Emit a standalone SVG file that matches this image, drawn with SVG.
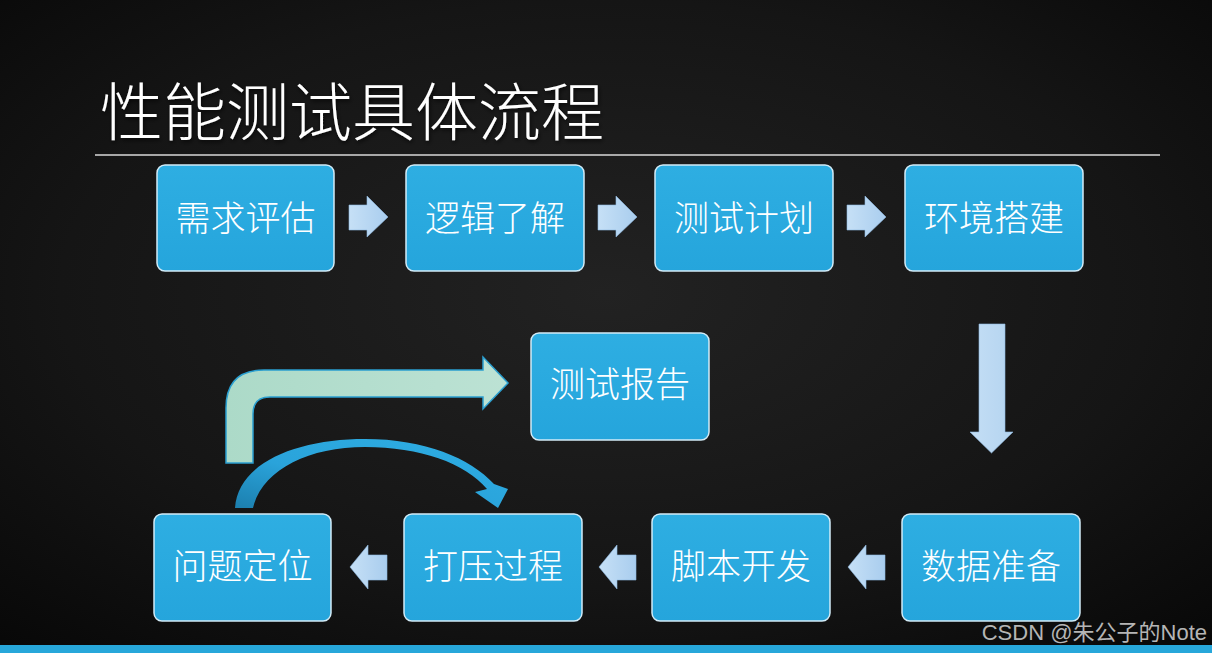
<svg xmlns="http://www.w3.org/2000/svg" width="1212" height="653" viewBox="0 0 1212 653">
<defs>
<radialGradient id="bg" cx="0.5" cy="0.45" r="0.75">
<stop offset="0" stop-color="#222222"/>
<stop offset="0.6" stop-color="#151515"/>
<stop offset="1" stop-color="#070707"/>
</radialGradient>
<linearGradient id="boxg" x1="0" y1="0" x2="0" y2="1">
<stop offset="0" stop-color="#2eaee2"/>
<stop offset="1" stop-color="#25a5dc"/>
</linearGradient>
<linearGradient id="arrg" x1="0" y1="0" x2="1" y2="0">
<stop offset="0" stop-color="#c6e0f6"/>
<stop offset="1" stop-color="#a9cdee"/>
</linearGradient>
<linearGradient id="arrv" x1="0" y1="0" x2="1" y2="0">
<stop offset="0" stop-color="#c4def5"/>
<stop offset="1" stop-color="#b4d4f0"/>
</linearGradient>
<linearGradient id="mint" x1="0" y1="0" x2="1" y2="0">
<stop offset="0" stop-color="#acdac8"/>
<stop offset="1" stop-color="#bce2d4"/>
</linearGradient>
<linearGradient id="curv" x1="0" y1="1" x2="1" y2="0">
<stop offset="0" stop-color="#1c7fae"/>
<stop offset="0.4" stop-color="#2aa3da"/>
<stop offset="1" stop-color="#2eaee4"/>
</linearGradient>
<filter id="sh" x="-10%" y="-10%" width="120%" height="130%">
<feDropShadow dx="1" dy="2" stdDeviation="2" flood-color="#000" flood-opacity="0.7"/>
</filter>
</defs>
<style>
.box{fill:url(#boxg);stroke:#d2ebf7;stroke-width:1.5;}
.lbl{font-family:"Noto Sans CJK SC","Noto Sans",sans-serif;font-weight:300;font-size:35px;fill:#ffffff;text-anchor:middle;}
.arr{fill:url(#arrg);stroke:#8fb9e0;stroke-width:0.6;}
</style>
<rect x="0" y="0" width="1212" height="653" fill="url(#bg)"/>
<rect x="0" y="645" width="1212" height="8" fill="#27a7da"/>
<g id="title">
<text x="100" y="135" font-family="Noto Sans CJK SC, sans-serif" font-weight="300" font-size="63" fill="#ffffff" filter="url(#sh)">性能测试具体流程</text>
<line x1="95" y1="155" x2="1160" y2="155" stroke="#d8d8d8" stroke-width="1.5"/>
</g>
<g id="connectors">
<path class="arr" d="M349,205 L367,205 L367,196 L388,217 L367,237 L367,230 L349,230 Z"/>
<path class="arr" d="M598,205 L616,205 L616,196 L637,217 L616,237 L616,230 L598,230 Z"/>
<path class="arr" d="M847,205 L865,205 L865,196 L886,217 L865,237 L865,230 L847,230 Z"/>
<path fill="url(#arrv)" stroke="#8fb9e0" stroke-width="0.6" d="M979,324 L1005,324 L1005,432 L1013,432 L991.5,453 L970,432 L979,432 Z"/>
<path class="arr" d="M885,555 L866,555 L866,545 L848,567 L866,589 L866,580 L885,580 Z"/>
<path class="arr" d="M636,555 L617,555 L617,545 L599,567 L617,589 L617,580 L636,580 Z"/>
<path class="arr" d="M387,555 L368,555 L368,545 L350,567 L368,589 L368,580 L387,580 Z"/>
<path fill="url(#mint)" stroke="#2a9fd0" stroke-width="1.5" d="M226,463 L226,408 Q226,370 264,370 L483,370 L483,357 L508,383 L483,409 L483,397 L270,397 Q253,397 253,414 L253,463 Z"/>
<path fill="url(#curv)" d="M235,508 C238,462 298,439 365,439 C425,439 470,458 494,484 L508,489 L498,508 L475,492 L487,489 C465,463 420,447 365,447 C308,447 262,470 253,508 Z"/>
</g>
<g id="n1"><rect class="box" x="157" y="165" width="177" height="106" rx="8"/><text class="lbl" x="245.5" y="231">需求评估</text></g>
<g id="n2"><rect class="box" x="406" y="165" width="178" height="106" rx="8"/><text class="lbl" x="495" y="231">逻辑了解</text></g>
<g id="n3"><rect class="box" x="655" y="165" width="178" height="106" rx="8"/><text class="lbl" x="744" y="231">测试计划</text></g>
<g id="n4"><rect class="box" x="905" y="165" width="178" height="106" rx="8"/><text class="lbl" x="994" y="231">环境搭建</text></g>
<g id="n5"><rect class="box" x="902" y="514" width="178" height="107" rx="8"/><text class="lbl" x="991" y="579">数据准备</text></g>
<g id="n6"><rect class="box" x="652" y="514" width="178" height="107" rx="8"/><text class="lbl" x="741" y="579">脚本开发</text></g>
<g id="n7"><rect class="box" x="404" y="514" width="178" height="107" rx="8"/><text class="lbl" x="493" y="579">打压过程</text></g>
<g id="n8"><rect class="box" x="154" y="514" width="177" height="107" rx="8"/><text class="lbl" x="242.5" y="579">问题定位</text></g>
<g id="n9"><rect class="box" x="531" y="333" width="178" height="107" rx="8"/><text class="lbl" x="620" y="397">测试报告</text></g>
<text x="1207" y="640" text-anchor="end" font-family="Liberation Sans, Noto Sans CJK SC, sans-serif" font-size="22" fill="#b5b5b5">CSDN @朱公子的Note</text>
</svg>
